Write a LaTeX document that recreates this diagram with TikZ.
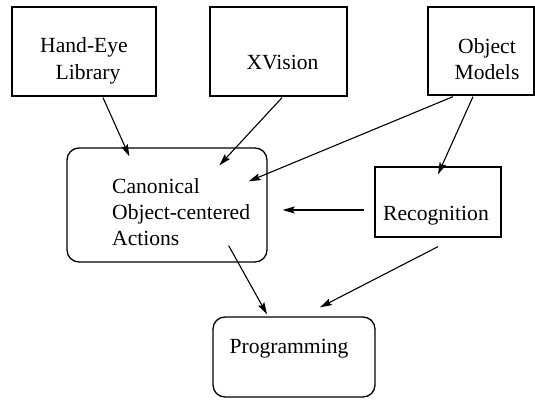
\documentclass[tikz,border=0pt]{standalone}
\usepackage{fontspec}
\setmainfont{Liberation Serif}
\usetikzlibrary{arrows.meta,calc}
\begin{document}
\begin{tikzpicture}[x=1pt,y=-1pt,
  box/.style={draw, line width=1.3pt, inner sep=0pt, minimum width=#1},
  rbox/.style={draw, line width=1.3pt, inner sep=0pt, rounded corners=12pt},
  lbl/.style={anchor=base, inner sep=0pt, font=\fontsize{21.6}{27}\selectfont},
  conn/.style={line width=1.1pt, -{Stealth[length=12pt,width=7pt,inset=2pt]}}]
\useasboundingbox (0,0) rectangle (535,399);
% boxes
\node[box=144pt, minimum height=89pt] (he) at (84,51.5) {};
\node[box=137pt, minimum height=89pt] (xv) at (278.5,51.5) {};
\node[box=106pt, minimum height=88pt] (om) at (481,51) {};
\node[box=126pt, minimum height=70pt] (rec) at (438,202) {};
\node[rbox, minimum width=200pt, minimum height=114pt] (can) at (167,205) {};
\node[rbox, minimum width=162pt, minimum height=80pt] (prog) at (294,357) {};
% labels
\node[lbl] (t1) at (84,52) {Hand-Eye};
\node[lbl] (t2) at (88,79) {Library};
\node[lbl] (t3) at (282.5,69) {XVision};
\node[lbl] (t4) at (487,53) {Object};
\node[lbl] (t5) at (487,79) {Models};
\node[lbl, anchor=base west] (t6) at (112,193) {Canonical};
\node[lbl, anchor=base west] (t7) at (112,219) {Object-centered};
\node[lbl, anchor=base west] (t8) at (112,245) {Actions};
\node[lbl] (t9) at (436,220) {Recognition};
\node[lbl] (t10) at (289,353) {Programming};
% connectors
\draw[conn] ($(he.south)+(19,1)$) -- ($(can.north west)+(63,9)$);
\draw[conn] ($(xv.south)+(3.5,1)$) -- ($(can.north west)+(153,18)$);
\draw[conn] ($(om.south)+(-28,1)$) -- ($(can.north east)+(-19,34)$);
\draw[conn] ($(om.south)+(-8,1)$) -- ($(rec.north)+(0,8)$);
\draw[conn] ($(rec.west)+(-10,8)$) -- ($(can.east)+(15,5)$);
\draw[conn] ($(can.south east)+(-39,-17)$) -- ($(prog.north)+(-27,-2)$);
\draw[conn] ($(rec.south)+(0,9)$) -- ($(prog.north)+(26,-9)$);
\end{tikzpicture}
\end{document}
